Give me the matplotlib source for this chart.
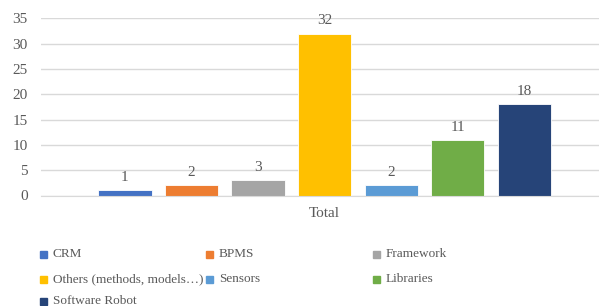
import matplotlib.pyplot as plt
from matplotlib.patches import Rectangle

series = ['CRM', 'BPMS', 'Framework', 'Others (methods, models…)',
          'Sensors', 'Libraries', 'Software Robot']
values = [1, 2, 3, 32, 2, 11, 18]
colors = ['#4472C4', '#ED7D31', '#A5A5A5', '#FFC000',
          '#5B9BD5', '#70AD47', '#264478']
category = 'Total'
yticks = [0, 5, 10, 15, 20, 25, 30, 35]

plt.rcParams['font.family'] = ['Liberation Serif', 'DejaVu Serif']
txt = '#595959'

fig = plt.figure(figsize=(5.99, 3.06), dpi=100)
ax = fig.add_axes([41 / 599, 1 - 195.5 / 306, 1 - 41 / 599, (195.5 - 18.5) / 306])

pos = list(range(len(series)))
ax.bar(pos, values, width=0.8, color=colors, edgecolor='white',
       linewidth=0.6, zorder=3)
for x, v in zip(pos, values):
    ax.annotate(str(v), (x, v), xytext=(0, 4.5), textcoords='offset points',
                ha='center', va='bottom', fontsize=11, color=txt)

ax.set_xlim(-1.26, 7.12)
ax.set_ylim(0, 35)
ax.set_yticks(yticks)
ax.set_xticks([3])
ax.set_xticklabels([category])
ax.tick_params(length=0, labelsize=11, labelcolor=txt)
ax.tick_params(axis='y', pad=9.5)
ax.tick_params(axis='x', pad=8)
ax.grid(axis='y', color='#d9d9d9', linewidth=1, zorder=0)
for s in ['top', 'right', 'left']:
    ax.spines[s].set_visible(False)
ax.spines['bottom'].set_color('#d9d9d9')
ax.spines['bottom'].set_zorder(4)

# legend laid out in three fixed columns like the original
col_x = [40, 206, 373]
row_y = [254, 279, 301]
for i, (name, c) in enumerate(zip(series, colors)):
    px = col_x[i % 3]
    py = row_y[i // 3]
    fig.patches.append(Rectangle((px / 599, 1 - (py + 3.5) / 306), 7 / 599, 7 / 306,
                                 transform=fig.transFigure, color=c))
    fig.text((px + 13) / 599, 1 - py / 306, name, ha='left', va='center',
             fontsize=9.5, color=txt)

fig.savefig('out.png', dpi=100)
